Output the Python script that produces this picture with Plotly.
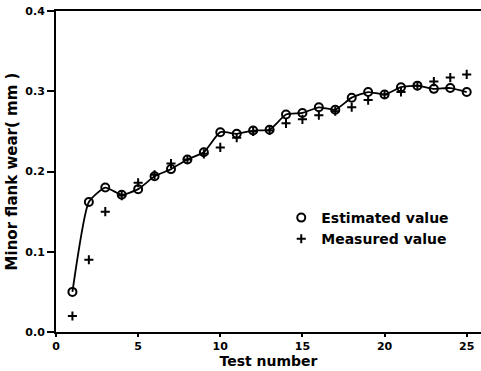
import plotly.graph_objects as go

test_number = list(range(1, 26))
estimated = [0.050, 0.162, 0.180, 0.171, 0.178, 0.194, 0.203, 0.215, 0.224, 0.249,
             0.247, 0.251, 0.252, 0.271, 0.273, 0.280, 0.277, 0.292, 0.299, 0.296,
             0.305, 0.307, 0.303, 0.304, 0.299]
measured = [0.020, 0.090, 0.150, 0.170, 0.186, 0.196, 0.210, 0.215, 0.222, 0.230,
            0.242, 0.250, 0.251, 0.260, 0.265, 0.270, 0.275, 0.280, 0.289, 0.296,
            0.299, 0.307, 0.312, 0.317, 0.321]

x_ticks = [0, 5, 10, 15, 20, 25]
y_ticks = [0.0, 0.1, 0.2, 0.3, 0.4]
y_tick_labels = ["0.0", "0.1", "0.2", "0.3", "0.4"]

FONT = "DejaVu Sans"

fig = go.Figure()
fig.add_trace(go.Scatter(
    x=test_number, y=estimated, mode="lines",
    line=dict(color="black", width=1.8, shape="spline", smoothing=0.5),
    showlegend=False, hoverinfo="skip"))
fig.add_trace(go.Scatter(
    x=test_number, y=estimated, mode="markers", name="Estimated value",
    marker=dict(symbol="circle-open", size=8, color="black", line=dict(width=2))))
fig.add_trace(go.Scatter(
    x=test_number, y=measured, mode="markers", name="Measured value",
    marker=dict(symbol="cross-thin-open", size=6.5, color="black", line=dict(width=2, color="black"))))

fig.update_layout(
    width=481, height=371,
    margin=dict(l=56, r=0, t=11, b=39),
    paper_bgcolor="white", plot_bgcolor="white",
    font=dict(family=FONT, color="black", size=12),
    legend=dict(x=0.53, y=0.405, xanchor="left", yanchor="top",
                bgcolor="rgba(0,0,0,0)", borderwidth=0,
                font=dict(family=FONT, size=14, weight="bold"),
                tracegroupgap=0, itemwidth=30),
    xaxis=dict(range=[0, 25.87], tickvals=x_ticks, ticks="outside", ticklen=3,
               tickwidth=1.5, tickcolor="black",
               showline=True, linecolor="black", linewidth=2, mirror=True,
               showgrid=False, zeroline=False,
               tickfont=dict(family=FONT, size=11, weight="bold"),
               title=dict(text="Test number", standoff=2,
                          font=dict(family=FONT, size=14, weight="bold"))),
    yaxis=dict(range=[0, 0.4], tickvals=y_ticks, ticktext=y_tick_labels,
               ticks="outside", ticklen=7, tickwidth=1.5, tickcolor="black",
               showline=True, linecolor="black", linewidth=2,
               showgrid=False, zeroline=False,
               tickfont=dict(family=FONT, size=11, weight="bold"),
               title=dict(text="Minor flank wear( mm )", standoff=4,
                          font=dict(family=FONT, size=15, weight="bold"))),
)

fig.write_html("out.html")
